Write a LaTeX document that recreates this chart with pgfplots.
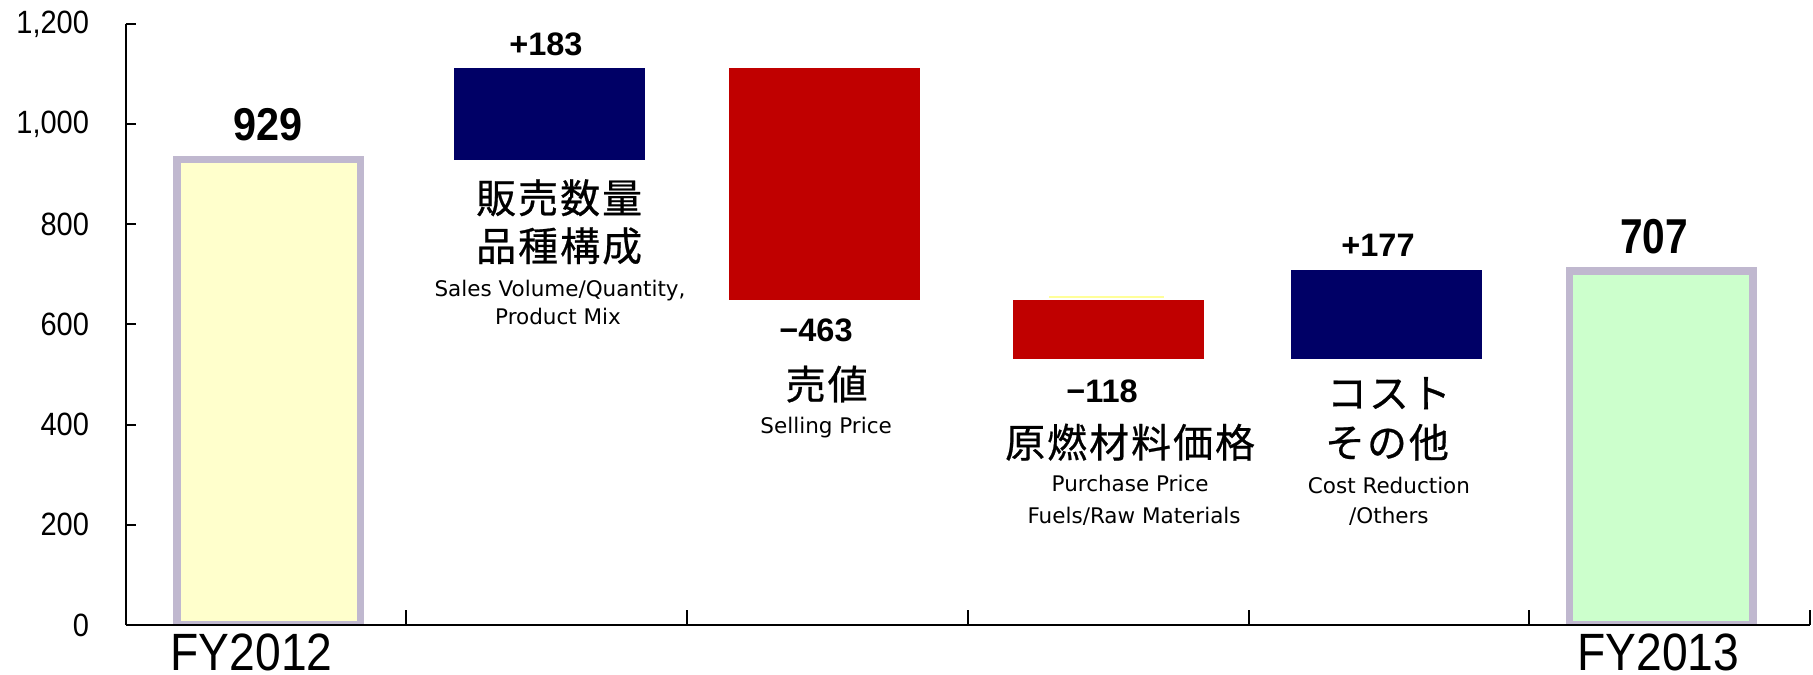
\documentclass[border=0pt]{standalone}
\usepackage{fontspec}
\setmainfont{Liberation Sans}
\newfontfamily\tickfont{Liberation Sans}[FakeStretch=0.9]
\newfontfamily\numfont{Liberation Sans}
\newfontfamily\narrowfont{Liberation Sans}[FakeStretch=0.83]
\newfontfamily\fyfont{Liberation Sans}[FakeStretch=0.88]
\newfontfamily\jp{Noto Sans CJK JP}[LetterSpace=5, FakeBold=0.6]
\newfontfamily\en{DejaVu Sans}
\usepackage{pgfplots}
\pgfplotsset{compat=1.18}
\definecolor{yel}{HTML}{FFFFCC}
\definecolor{grn}{HTML}{CCFFCC}
\definecolor{brd}{HTML}{C0B8CF}
\definecolor{navy}{HTML}{000066}
\definecolor{dred}{HTML}{C00000}
\definecolor{pyel}{HTML}{FFFF99}
\begin{document}
\begin{tikzpicture}
\begin{axis}[
  name=ax, scale only axis, width=673.7pt, height=240.4pt,
  xmin=0, xmax=6, ymin=0, ymax=1200,
  axis x line=bottom, axis y line=left,
  axis line style={-, line width=0.8pt, black},
  xtick={1,2,3,4,5,6}, xticklabels={},
  ytick={0,200,...,1200},
  tick align=inside,
  major tick length=4pt,
  xtick style={/pgfplots/major tick length=6pt, line width=0.8pt, black},
  ytick style={line width=0.8pt, black},
  yticklabel style={font=\tickfont\fontsize{12.9}{14}\selectfont, inner sep=0pt, anchor=east, xshift=-14.5pt},
  /pgf/number format/1000 sep={,},
  /pgf/number format/assume math mode=true,
  clip mode=individual,
  axis on top,
]
% totals
\addplot[ybar, bar width=0.654, bar shift=0pt, fill=yel, draw=brd, line width=3pt] coordinates {(0.51,929)};
\addplot[ybar, bar width=0.654, bar shift=0pt, fill=grn, draw=brd, line width=3pt] coordinates {(5.47,707)};
% floating changes
\addplot[fill=navy, draw=none] coordinates {(1.17,929) (1.85,929) (1.85,1112) (1.17,1112)} -- cycle;
\addplot[fill=dred, draw=none] coordinates {(2.15,649) (2.83,649) (2.83,1112) (2.15,1112)} -- cycle;
\addplot[fill=dred, draw=none] coordinates {(3.16,531) (3.84,531) (3.84,649) (3.16,649)} -- cycle;
\addplot[fill=navy, draw=none] coordinates {(4.15,531) (4.83,531) (4.83,708) (4.15,708)} -- cycle;
\addplot[pyel, line width=0.8pt] coordinates {(3.29,655) (3.70,655)};
% value labels
\node[font=\tickfont\bfseries\fontsize{18.4}{20}\selectfont, anchor=base, inner sep=0pt] at (0.507,968) {929};
\node[font=\numfont\bfseries\fontsize{13}{15}\selectfont, anchor=base, inner sep=0pt] at (1.497,1137) {+183};
\node[font=\numfont\bfseries\fontsize{13}{15}\selectfont, anchor=base, inner sep=0pt] at (2.459,566) {−463};
\node[font=\numfont\bfseries\fontsize{13}{15}\selectfont, anchor=base, inner sep=0pt] at (3.478,445) {−118};
\node[font=\numfont\bfseries\fontsize{13}{15}\selectfont, anchor=base, inner sep=0pt] at (4.461,735) {+177};
\node[font=\narrowfont\bfseries\fontsize{19.6}{21}\selectfont, anchor=base, inner sep=0pt] at (5.445,741) {707};
% category labels
\node[font=\jp\fontsize{16}{18}\selectfont, anchor=center, inner sep=0pt] at (1.544,853) {販売数量};
\node[font=\jp\fontsize{16}{18}\selectfont, anchor=center, inner sep=0pt] at (1.544,757) {品種構成};
\node[font=\en\fontsize{8.6}{10}\selectfont, anchor=base, inner sep=0pt] at (1.547,655) {Sales Volume/Quantity,};
\node[font=\en\fontsize{8.6}{10}\selectfont, anchor=base, inner sep=0pt] at (1.540,599) {Product Mix};
\node[font=\jp\fontsize{16}{18}\selectfont, anchor=center, inner sep=0pt] at (2.497,481) {売値};
\node[font=\en\fontsize{8.6}{10}\selectfont, anchor=base, inner sep=0pt] at (2.495,383) {Selling Price};
\node[font=\jp\fontsize{16}{18}\selectfont, anchor=center, inner sep=0pt] at (3.578,365) {原燃材料価格};
\node[font=\en\fontsize{8.6}{10}\selectfont, anchor=base, inner sep=0pt] at (3.578,266) {Purchase Price};
\node[font=\en\fontsize{8.6}{10}\selectfont, anchor=base, inner sep=0pt] at (3.592,202) {Fuels/Raw Materials};
\node[font=\jp\fontsize{16}{18}\selectfont, anchor=center, inner sep=0pt] at (4.500,463) {コスト};
\node[font=\jp\fontsize{16}{18}\selectfont, anchor=center, inner sep=0pt] at (4.493,365) {その他};
\node[font=\en\fontsize{8.6}{10}\selectfont, anchor=base, inner sep=0pt] at (4.500,263) {Cost Reduction};
\node[font=\en\fontsize{8.6}{10}\selectfont, anchor=base, inner sep=0pt] at (4.500,203) {/Others};
\node[font=\fyfont\fontsize{21}{23}\selectfont, anchor=base, inner sep=0pt] at (0.448,-90) {FY2012};
\node[font=\fyfont\fontsize{21}{23}\selectfont, anchor=base, inner sep=0pt] at (5.460,-90) {FY2013};
\end{axis}
\pgfresetboundingbox
\path[use as bounding box] ([xshift=-50.3pt,yshift=-20pt]ax.south west) rectangle ([xshift=1.2pt,yshift=9.6pt]ax.north east);
\end{tikzpicture}
\end{document}
